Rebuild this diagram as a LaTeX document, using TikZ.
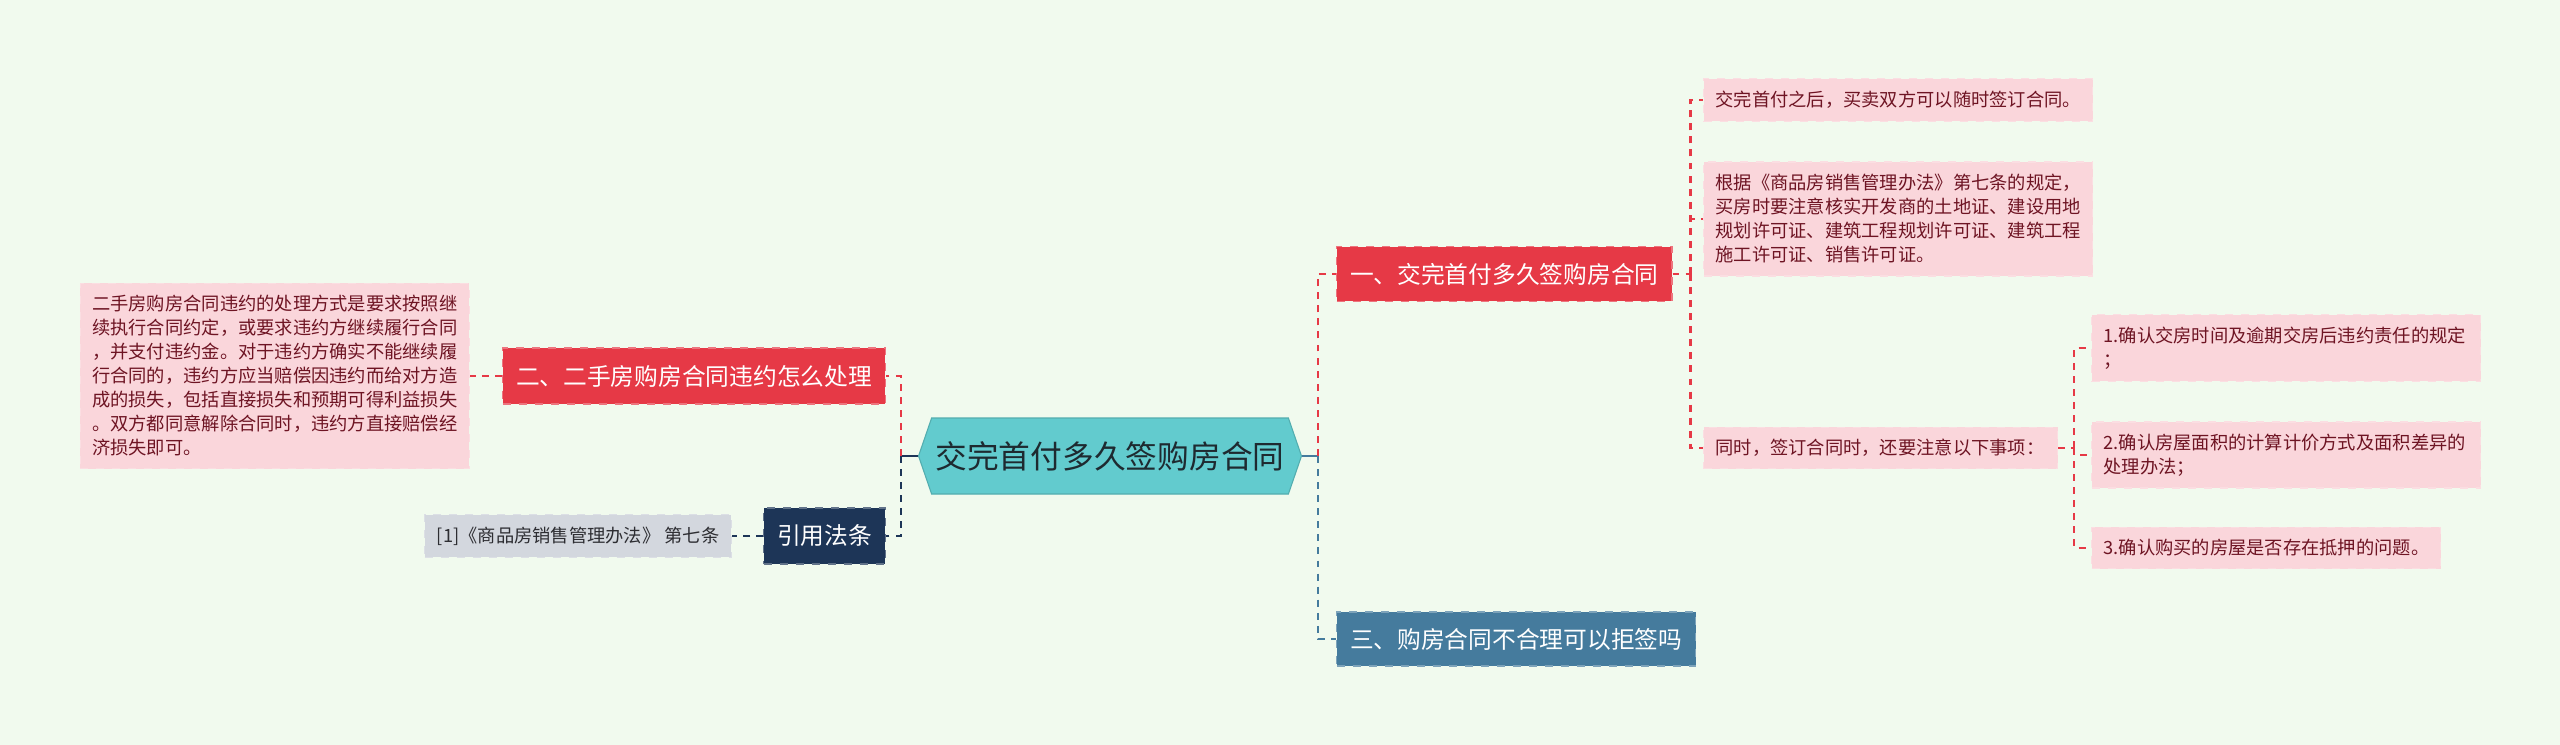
\documentclass[tikz,border=0pt]{standalone}
\usepackage{fontspec}
\setmainfont{Noto Sans CJK SC}
\usepackage{tikz}
\usetikzlibrary{positioning,shapes.symbols}
\usepackage{xcolor}
\definecolor{bgcol}{RGB}{241,250,238}
\definecolor{redcol}{RGB}{230,57,70}
\definecolor{navycol}{RGB}{29,53,87}
\definecolor{bluecol}{RGB}{69,123,157}
\definecolor{rootcol}{RGB}{98,203,206}
\definecolor{roottext}{RGB}{30,42,48}
\definecolor{leafcol}{RGB}{250,214,219}
\definecolor{leaftext}{RGB}{110,20,35}
\definecolor{refcol}{RGB}{211,215,222}
\definecolor{reftext}{RGB}{45,45,50}

\begin{document}
\begin{tikzpicture}[x=0.375pt,y=0.375pt,yscale=-1,xscale=1,
  rootbox/.style={shape=signal, signal to=west and east, signal pointer angle=142, fill=rootcol, draw=rootcol!85!black, line width=0.4pt, text=roottext, font=\fontsize{11.9}{14}\selectfont, minimum width=143.6pt, minimum height=28.5pt, inner sep=0pt},
  branchbox/.style={draw=#1!70!white, fill=#1, dashed, line width=0.5pt, text=white, font=\fontsize{8.9}{11}\selectfont, minimum height=21pt, inner xsep=5pt, anchor=west},
  leafbox/.style={draw=leafcol!80!white, fill=leafcol, dashed, line width=0.4pt, text=leaftext, font=\fontsize{6.85}{9}\selectfont, align=left, inner xsep=4.5pt, inner ysep=2pt, anchor=west},
  link/.style={draw=#1, line width=0.9pt, dash pattern=on 2.6pt off 2.3pt},
  stub/.style={draw=#1, line width=0.9pt}]
\fill[bgcol] (0,0) rectangle (2560,745);
\useasboundingbox (0,0) rectangle (2560,745);

% Root
\node[rootbox] (root) at (1110,456) {交完首付多久签购房合同};

% Branch Nodes
\node[branchbox=redcol, minimum height=20.6pt] (n1) at (1336,274) {一、交完首付多久签购房合同};
\node[branchbox=redcol, anchor=east] (n2) at (886,376) {二、二手房购房合同违约怎么处理};
\node[branchbox=bluecol, minimum height=20.3pt] (n3) at (1336,639) {三、购房合同不合理可以拒签吗};
\node[branchbox=navycol, anchor=east] (ref) at (886,536) {引用法条};

% Text Node
\node[leafbox, text width=137pt, minimum height=16.1pt] (a1) at (1703,100) {交完首付之后，买卖双方可以随时签订合同。};
\node[leafbox, text width=137pt, minimum height=42.75pt] (a2) at (1703,219) {根据《商品房销售管理办法》第七条的规定，\\买房时要注意核实开发商的土地证、建设用地\\规划许可证、建筑工程规划许可证、建筑工程\\施工许可证、销售许可证。};
\node[leafbox, text width=123.75pt, minimum height=15.4pt] (a3) at (1703,448) {同时，签订合同时，还要注意以下事项：};
\node[leafbox, text width=137pt, minimum height=25.1pt] (b1) at (2091,348) {1.确认交房时间及逾期交房后违约责任的规定\\；};
\node[leafbox, text width=137pt, minimum height=24.75pt] (b2) at (2091,455) {2.确认房屋面积的计算计价方式及面积差异的\\处理办法；};
\node[leafbox, text width=122pt, minimum height=15.4pt] (b3) at (2091,548) {3.确认购买的房屋是否存在抵押的问题。};
\node[leafbox, anchor=east, text width=137pt, minimum height=69.4pt] (l2) at (470,376) {二手房购房合同违约的处理方式是要求按照继\\续执行合同约定，或要求违约方继续履行合同\\，并支付违约金。对于违约方确实不能继续履\\行合同的，违约方应当赔偿因违约而给对方造\\成的损失，包括直接损失和预期可得利益损失\\。双方都同意解除合同时，违约方直接赔偿经\\济损失即可。};
\node[leafbox, anchor=east, draw=refcol!80!white, fill=refcol, text=reftext, minimum width=115pt, minimum height=16.1pt] (lr) at (732,536) {[1]《商品房销售管理办法》 第七条};

% Joints
\coordinate[right=6pt of root] (rootR);
\coordinate[left=6.4pt of root] (rootL);
\coordinate[right=6.75pt of n1] (n1R);
\coordinate[right=6pt of a3] (a3R);

%Straight Lines
\draw[stub=bluecol] (root.east) -- (rootR);
\draw[stub=navycol] (root.west) -- (rootL);
\draw[link=redcol] (rootR) |- (n1.west);
\draw[link=bluecol] (rootR) |- (n3.west);
\draw[link=redcol] (rootL) |- (n2.east);
\draw[link=navycol] (rootL) |- (ref.east);
\draw[link=redcol] (n2.west) -- (l2.east);
\draw[link=navycol] (ref.west) -- (lr.east);
\draw[link=redcol] (n1.east) -- (n1R);
\foreach \leaf in {a1,a2,a3} \draw[link=redcol] (n1R) |- (\leaf.west);
\draw[link=redcol] (a3.east) -- (a3R);
\foreach \leaf in {b1,b2,b3} \draw[link=redcol] (a3R) |- (\leaf.west);

\end{tikzpicture}
\end{document}
